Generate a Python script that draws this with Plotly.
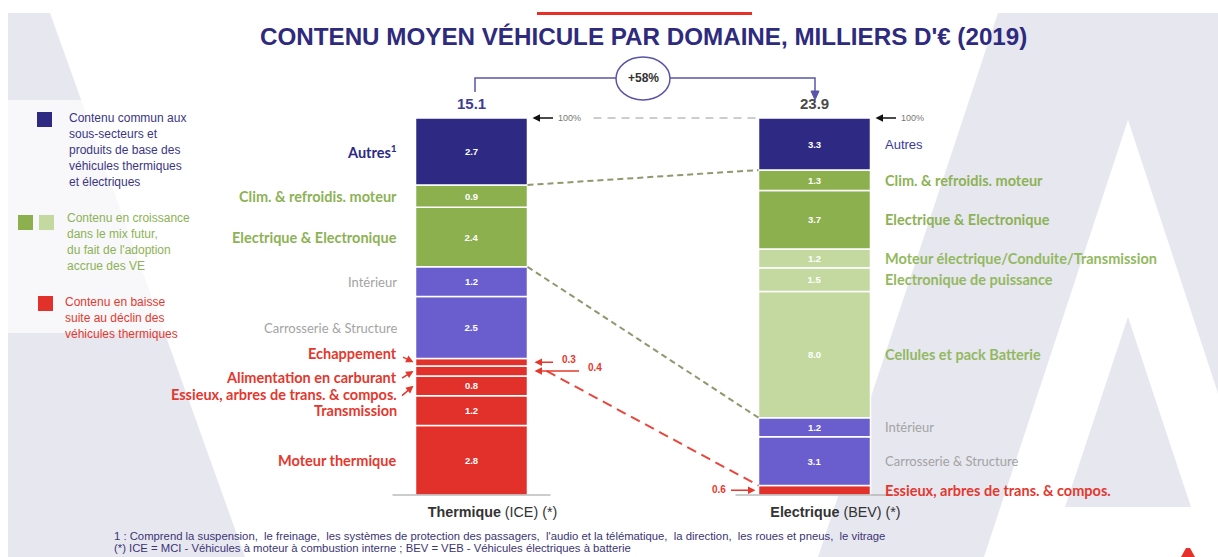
import numpy as np
import plotly.graph_objects as go

W, H = 1218, 557

# ---------------- data ----------------
title_text = "CONTENU MOYEN VÉHICULE PAR DOMAINE, MILLIERS D'€ (2019)"
categories = ["Thermique", "Electrique"]
category_suffix = ["(ICE) (*)", "(BEV) (*)"]
totals = ["15.1", "23.9"]
growth_text = "+58%"

ice_labels = ["Moteur thermique", "Transmission", "Essieux, arbres de trans. & compos.",
              "Alimentation en carburant", "Echappement", "Carrosserie & Structure",
              "Intérieur", "Electrique & Electronique", "Clim. & refroidis. moteur", "Autres"]
ice_values = [2.8, 1.2, 0.8, 0.4, 0.3, 2.5, 1.2, 2.4, 0.9, 2.7]
ice_groups = ["red", "red", "red", "red", "red", "purple", "purple", "green", "green", "navy"]

bev_labels = ["Essieux, arbres de trans. & compos.", "Carrosserie & Structure", "Intérieur",
              "Cellules et pack Batterie", "Electronique de puissance",
              "Moteur électrique/Conduite/Transmission", "Electrique & Electronique",
              "Clim. & refroidis. moteur", "Autres"]
bev_values = [0.6, 3.1, 1.2, 8.0, 1.5, 1.2, 3.7, 1.3, 3.3]
bev_groups = ["red", "purple", "purple", "lightgreen", "lightgreen", "lightgreen", "green", "green", "navy"]

legend_navy = ["Contenu commun aux", "sous-secteurs et", "produits de base des",
               "véhicules thermiques", "et électriques"]
legend_green = ["Contenu en croissance", "dans le mix futur,", "du fait de l'adoption", "accrue des VE"]
legend_red = ["Contenu en baisse", "suite au déclin des", "véhicules thermiques"]

footnotes = ["1 : Comprend la suspension,  le freinage,  les systèmes de protection des passagers,  l'audio et la télématique,  la direction,  les roues et pneus,  le vitrage",
             "(*) ICE = MCI - Véhicules à moteur à combustion interne ; BEV = VEB - Véhicules électriques à batterie"]

# ---------------- styles ----------------
FILL = {"navy": "#2E2A84", "green": "#8DB04F", "lightgreen": "#C4D9A0",
        "purple": "#6A5ECF", "red": "#E2302A"}
LABEL_COLOR = {"navy": "#2E2A84", "green": "#8DB255", "lightgreen": "#93B960",
               "purple": "#A3A3A3", "red": "#E4382E"}
LAV = "#E7E7F0"
LBL_FONT = "Lato"
SANS = "Liberation Sans"

# ---------------- geometry ----------------
BAR_TOP_PX, BAR_BOT_PX = 118, 495
ICE_CX, BEV_CX = 471.5, 814.5
UNIT = BEV_CX - ICE_CX
BAR_W = 112 / UNIT
PPU = (BAR_BOT_PX - BAR_TOP_PX) / 100.0
x_range = [-ICE_CX / UNIT, 1 + (W - BEV_CX) / UNIT]
y_range = [-(H - BAR_BOT_PX) / PPU, 100 + BAR_TOP_PX / PPU]


def dx(p):
    return p / UNIT


def X(px):
    return (px - ICE_CX) / UNIT


def Y(py):
    return (BAR_BOT_PX - py) / PPU


def PX(px):
    return px / W


def PY(py):
    return 1 - py / H


def stack(values):
    v = np.array(values, float)
    share = v / v.sum() * 100
    base = np.concatenate([[0], np.cumsum(share)[:-1]])
    return share, base


fig = go.Figure()
shapes = []
ann = []

# ---------------- background watermark ----------------
def poly(pts, color, opacity=1.0):
    path = "M " + " L ".join(f"{PX(x):.5f},{PY(y):.5f}" for x, y in pts) + " Z"
    return dict(type="path", xref="paper", yref="paper", path=path, fillcolor=color,
                opacity=opacity, line=dict(width=0), layer="below")

shapes.append(poly([(8, 13), (50, 13), (245, 557), (8, 557)], LAV))
shapes.append(poly([(8, 100), (205, 100), (205, 333), (8, 333)], "white", 0.72))
shapes.append(poly([(998, 13), (1218, 13), (1218, 557), (818, 557)], LAV))
shapes.append(poly([(1128, 120), (1272, 557), (984, 557)], "white"))
shapes.append(poly([(1128, 317), (1191, 507), (1065, 507)], LAV))
shapes.append(poly([(537, 12), (752, 12), (752, 15), (537, 15)], "#E8302A"))
shapes.append(poly([(1181, 557), (1186, 548), (1190, 548), (1195, 557)], "#E8302A"))

# ---------------- bars ----------------
stacks = []
for i, (vals, groups) in enumerate([(ice_values, ice_groups), (bev_values, bev_groups)]):
    share, base = stack(vals)
    stacks.append((share, base))
    txt = [f"<b>{v:.1f}</b>" if v >= 0.7 else "" for v in vals]
    fig.add_trace(go.Bar(
        x=[i] * len(vals), y=share, base=base, width=BAR_W,
        marker=dict(color=[FILL[g] for g in groups], line=dict(color="white", width=1.5)),
        text=txt, textposition="inside", insidetextanchor="middle", textangle=0,
        constraintext="none", textfont=dict(color="white", size=9.5, family=SANS),
        hoverinfo="skip", showlegend=False))

ice_share, ice_base = stacks[0]
bev_share, bev_base = stacks[1]
ice_c = ice_base + ice_share / 2
bev_c = bev_base + bev_share / 2

# baselines under the bars
for i, ext in [(0, 23), (1, 23)]:
    shapes.append(dict(type="line", xref="x", yref="y", x0=i - BAR_W / 2 - dx(ext),
                       x1=i + BAR_W / 2 + dx(ext), y0=0, y1=0,
                       line=dict(color="#9A9A9A", width=1)))

# ---------------- segment labels ----------------
ice_label_shift = {"Echappement": 9, "Alimentation en carburant": -7,
                   "Essieux, arbres de trans. & compos.": -9}
ice_label_arrow = {"Echappement": (-12, -6), "Alimentation en carburant": (-13, 8),
                   "Essieux, arbres de trans. & compos.": (-13, 11)}

for lab, g, yc in zip(ice_labels, ice_groups, ice_c):
    text = "Autres<sup>1</sup>" if lab == "Autres" else lab
    bold = g != "purple"
    ann.append(dict(x=-BAR_W / 2 - dx(17), y=yc, xref="x", yref="y", text=text,
                    xanchor="right", yanchor="middle", showarrow=False,
                    yshift=ice_label_shift.get(lab, 0),
                    font=dict(family=LBL_FONT, size=14.5 if bold else 13, color=LABEL_COLOR[g],
                              weight="bold" if bold else "normal")))
    if lab in ice_label_arrow:
        axp, ayp = ice_label_arrow[lab]
        ann.append(dict(x=-BAR_W / 2 - dx(2), y=yc, xref="x", yref="y", text="",
                        showarrow=True, ax=axp, ay=ayp, arrowhead=2, arrowsize=1,
                        arrowwidth=1.5, arrowcolor=LABEL_COLOR["red"]))

for lab, g, yc in zip(bev_labels, bev_groups, bev_c):
    if lab == "Autres":
        fnt = dict(family=SANS, size=13, color="#3B3A99")
    else:
        bold = g != "purple"
        fnt = dict(family=LBL_FONT, size=14.5 if bold else 13, color=LABEL_COLOR[g],
                   weight="bold" if bold else "normal")
    ann.append(dict(x=1 + BAR_W / 2 + dx(12), y=yc, xref="x", yref="y", text=lab,
                    xanchor="left", yanchor="middle", showarrow=False, font=fnt))

# small values shown outside with arrows
red = LABEL_COLOR["red"]
small_font = dict(family=SANS, size=10, color=red, weight="bold")
for idx, tail, txt_off in [(4, 20, 25), (3, 46, 51)]:
    yc = ice_c[idx]
    ann.append(dict(x=BAR_W / 2 + dx(7), y=yc, xref="x", yref="y", text="", showarrow=True,
                    ax=tail, ay=0, arrowhead=2, arrowsize=1, arrowwidth=1.5, arrowcolor=red))
    ann.append(dict(x=BAR_W / 2 + dx(7 + txt_off), y=yc, xref="x", yref="y",
                    text=f"{ice_values[idx]:.1f}", xanchor="left", yanchor="middle",
                    showarrow=False, yshift=3, font=small_font))
ann.append(dict(x=1 - BAR_W / 2 - dx(3), y=bev_c[0], xref="x", yref="y", text="", showarrow=True,
                ax=-26, ay=0, arrowhead=2, arrowsize=1, arrowwidth=1.5, arrowcolor=red))
ann.append(dict(x=1 - BAR_W / 2 - dx(31), y=bev_c[0], xref="x", yref="y",
                text=f"{bev_values[0]:.1f}", xanchor="right", yanchor="middle",
                showarrow=False, yshift=1, font=small_font))

# ---------------- connecting dashed lines ----------------
ice_top = ice_base + ice_share
bev_top = bev_base + bev_share
shapes.append(dict(type="line", xref="x", yref="y", x0=BAR_W / 2, y0=ice_base[9],
                   x1=1 - BAR_W / 2, y1=bev_base[8],
                   line=dict(color="#8E9A6E", width=2, dash="6px,4px")))
shapes.append(dict(type="line", xref="x", yref="y", x0=BAR_W / 2, y0=ice_base[7],
                   x1=1 - BAR_W / 2, y1=bev_base[3],
                   line=dict(color="#8E9A6E", width=2, dash="6px,4px")))
shapes.append(dict(type="line", xref="x", yref="y", x0=BAR_W / 2 + dx(19), y0=ice_c[3],
                   x1=1 - BAR_W / 2, y1=bev_top[0],
                   line=dict(color="#E8473E", width=2, dash="10px,6px")))

# 100% markers
for i in (0, 1):
    ann.append(dict(x=i + BAR_W / 2 + dx(5), y=100, xref="x", yref="y", text="", showarrow=True,
                    ax=22, ay=0, arrowhead=2, arrowsize=1, arrowwidth=1.5, arrowcolor="#111"))
    ann.append(dict(x=i + BAR_W / 2 + dx(28), y=100, xref="x", yref="y", text="100%",
                    xanchor="left", yanchor="middle", showarrow=False,
                    font=dict(family=SANS, size=9, color="#777")))
shapes.append(dict(type="line", xref="x", yref="y", x0=BAR_W / 2 + dx(66), x1=1 - BAR_W / 2,
                   y0=100, y1=100, line=dict(color="#BDBDBD", width=1.5, dash="8px,6px")))

# totals and growth bracket
for i, t, c in [(0, totals[0], "#3E3D96"), (1, totals[1], "#4A4A4A")]:
    ann.append(dict(x=i, y=100, xref="x", yref="y", text=f"<b>{t}</b>", showarrow=False,
                    yanchor="middle", yshift=15, font=dict(family=SANS, size=15, color=c)))
BR = "#5A55A8"
shapes.append(dict(type="path", xref="x", yref="y",
                   path=f"M {X(475)},{Y(92)} L {X(475)},{Y(78)} L {X(617)},{Y(78)}",
                   line=dict(color=BR, width=1.5)))
shapes.append(dict(type="path", xref="x", yref="y",
                   path=f"M {X(669)},{Y(78)} L {X(815)},{Y(78)} L {X(815)},{Y(92)}",
                   line=dict(color=BR, width=1.5)))
shapes.append(dict(type="path", xref="x", yref="y",
                   path=f"M {X(811)},{Y(91)} L {X(819)},{Y(91)} L {X(815)},{Y(100)} Z",
                   fillcolor=BR, line=dict(color=BR, width=1)))
shapes.append(dict(type="circle", xref="x", yref="y", x0=X(616), x1=X(670), y0=Y(100), y1=Y(57),
                   fillcolor="white", line=dict(color=BR, width=1.5)))
ann.append(dict(x=X(643), y=Y(78), xref="x", yref="y", text=f"<b>{growth_text}</b>",
                showarrow=False, font=dict(family=SANS, size=12, color="#333")))

# ---------------- title ----------------
ann.append(dict(x=PX(643), y=PY(37), xref="paper", yref="paper", text=f"<b>{title_text}</b>",
                showarrow=False, xanchor="center", yanchor="middle",
                font=dict(family=SANS, size=24.2, color="#2E2A7D")))

# ---------------- legend ----------------
shapes.append(poly([(37, 112), (52, 112), (52, 127), (37, 127)], FILL["navy"]))
shapes.append(poly([(18, 215), (33, 215), (33, 230), (18, 230)], FILL["green"]))
shapes.append(poly([(39, 215), (54, 215), (54, 230), (39, 230)], FILL["lightgreen"]))
shapes.append(poly([(38, 296), (53, 296), (53, 311), (38, 311)], FILL["red"]))
for lines, x0, y0, col in [(legend_navy, 67, 118, "#3A3585"), (legend_green, 65, 218, "#8DB255"),
                           (legend_red, 63, 302, "#E4382E")]:
    for k, line in enumerate(lines):
        ann.append(dict(x=PX(x0), y=PY(y0 + 16 * k), xref="paper", yref="paper", text=line,
                        showarrow=False, xanchor="left", yanchor="middle",
                        font=dict(family=SANS, size=12, color=col)))

# ---------------- footnotes ----------------
for k, line in enumerate(footnotes):
    ann.append(dict(x=PX(112), y=PY(535.5 + 12.5 * k), xref="paper", yref="paper", text=line,
                    showarrow=False, xanchor="left", yanchor="middle",
                    font=dict(family=SANS, size=11.3, color="#3A3575")))

tick_text = [f"<b>{c}</b> {s}" for c, s in zip(categories, category_suffix)]

fig.update_layout(
    width=W, height=H, margin=dict(l=0, r=0, t=0, b=0),
    paper_bgcolor="white", plot_bgcolor="rgba(0,0,0,0)",
    barmode="overlay", showlegend=False,
    shapes=shapes, annotations=ann,
    xaxis=dict(range=x_range, domain=[0, 1], anchor="free", position=PY(BAR_BOT_PX),
               tickvals=[0, 1], ticktext=tick_text, showgrid=False, zeroline=False,
               showline=False, ticks="", ticklabelshift=21, ticklabelstandoff=7,
               tickfont=dict(family=SANS, size=14.3, color="#333"), fixedrange=True),
    yaxis=dict(range=y_range, domain=[0, 1], visible=False, fixedrange=True),
)

fig.write_html("out.html", config={"displayModeBar": False},
               post_script="document.body.style.margin='0';document.body.style.overflow='hidden';")
